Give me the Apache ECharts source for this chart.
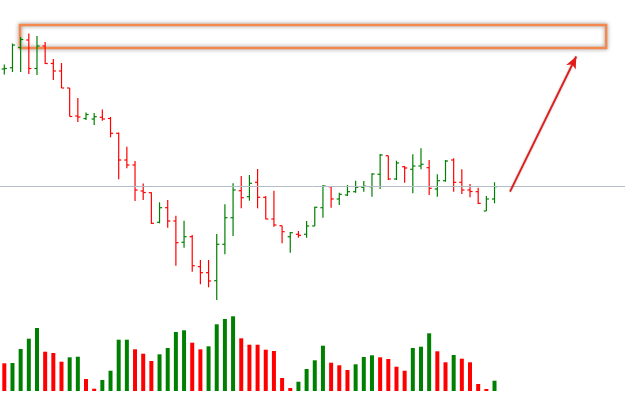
<!DOCTYPE html>
<html>
<head>
<meta charset="utf-8">
<script src="https://cdn.jsdelivr.net/npm/echarts@6/dist/echarts.min.js"></script>
<style>html,body{margin:0;padding:0;background:#fff}#c{width:625px;height:401px}</style>
</head>
<body>
<div id="c"></div>
<script>
// OHLC prices (arbitrary units)
const opens  = [231,232.3,252.5,260,231.5,254,236.5,229,212,184,181.5,181,182.7,181.5,166.7,140,135,109,107.3,77.7,92.3,79,57.7,63.3,33.3,27.3,19.3,55.7,82.3,109.3,103.3,117.7,102.7,81,74.3,63.3,65.7,65.7,74,92.3,113.3,101,105,108.3,112.7,113.3,125.7,144.3,121,133.3,130.7,134,132.3,111,119.3,140,117.7,110,108.3,89,101];
const closes = [231.5,255,260.5,231.5,254,236.5,229,212,183.5,183,185.5,183.3,181,166.7,140,135,110,107.5,76.7,92.3,79,57.3,63.3,34.3,27.3,19,55.7,82.3,110,102.3,116.7,102.7,81,75,68.3,67.3,64.7,74,92.7,114,101,105.7,108.3,112.7,113.7,126,145,121,137,132,134,135.7,111.7,119.3,139,117.7,110,108.5,96.7,101,113.3];
const lows   = [225.5,228,228,226,225,236,220,212,183.5,178,180,175,179.3,162.7,120.7,131.7,99,100,76,76.7,72.3,34.3,52.3,28.3,15.7,12.7,0,45.7,64,91.7,99.3,91.7,80.7,73.3,56.7,47.3,62.3,62.3,74,82.3,92.3,95,104,107.3,108.3,103.3,111,120,120,117.3,106.7,130.7,105,103.3,118.3,108.3,106,102.7,96,89,96.7];
const highs  = [235.5,256.5,263,266.5,264,258,241,237,212,202,187.5,187,190.5,183,167.5,153.3,139,116.5,107.7,97.7,100,84.3,79.3,65,40,40,66,95.7,116.7,124,125,131,104,109.3,74.3,68,69,79,93.3,115,114,107.3,115,119.3,119,126.7,146,144.3,139.3,134,145.7,151.7,140,125.7,140,141.7,130.7,116,112.3,104,117.7];
// Volume and its direction (1 = up, -1 = down)
const volumes = [27.7,28,42,52.3,63,39.3,38,29.3,33.7,34.3,12,2.3,11,20.3,51.3,51.3,41.7,37.3,30,36.7,43,59,60.7,48.3,41.7,44.7,66.7,72,74.7,52.7,46.3,46.3,41.3,40,13,3,9.3,22,30.7,45.3,28.3,25.7,21,26.7,34,35.7,33.7,32,24.3,20.3,43,44.3,57.7,39.7,28.7,36,32.3,28.7,7,2,10.3];
const volDir  = [-1,1,1,1,1,-1,-1,-1,1,1,-1,-1,1,1,1,1,-1,-1,-1,1,1,1,1,-1,-1,1,1,1,1,-1,-1,-1,-1,-1,-1,-1,1,1,1,1,-1,-1,-1,1,1,1,-1,-1,-1,-1,1,1,1,-1,-1,1,-1,-1,-1,-1,1];
// Annotations (in data units)
const refLevel = 114;
const boxArea = [[1.92, 275], [73.66, 252]];
const arrowFrom = [61.9, 108.3];
const arrowTo = [70.0, 243.5];

const UP = '#008000', DOWN = '#ff0000';
const ohlc = opens.map((o, i) => [i, o, closes[i], lows[i], highs[i]]);
const vol = volumes.map((v, i) => ({ value: [i, v], itemStyle: { color: volDir[i] > 0 ? UP : DOWN } }));

const X_MIN = -0.527, X_MAX = 75.97;
const chart = echarts.init(document.getElementById('c'));
chart.setOption({
  animation: false,
  grid: [
    { left: 0, right: 0, top: 0, height: 310 },
    { left: 0, right: 0, top: 311, height: 80 }
  ],
  xAxis: [
    { type: 'value', gridIndex: 0, min: X_MIN, max: X_MAX, show: false },
    { type: 'value', gridIndex: 1, min: X_MIN, max: X_MAX, show: false }
  ],
  yAxis: [
    { type: 'value', gridIndex: 0, min: -10, max: 300, show: false },
    { type: 'value', gridIndex: 1, min: 0, max: 80, show: false }
  ],
  series: [
    {
      type: 'scatter', xAxisIndex: 0, yAxisIndex: 0, data: [], symbolSize: 0, silent: true,
      markLine: {
        silent: true, symbol: ['none', 'none'], label: { show: false },
        lineStyle: { color: '#b4bcc8', width: 1, type: 'solid' },
        data: [{ yAxis: refLevel }]
      }
    },
    {
      type: 'custom', xAxisIndex: 0, yAxisIndex: 0, data: ohlc,
      encode: { x: 0, y: [1, 2, 3, 4] },
      renderItem: function (params, api) {
        const x = api.value(0);
        const o = api.coord([x, api.value(1)]);
        const c = api.coord([x, api.value(2)]);
        const l = api.coord([x, api.value(3)]);
        const h = api.coord([x, api.value(4)]);
        const color = api.value(2) >= api.value(1) ? UP : DOWN;
        const t = 2.6;
        const st = { stroke: color, lineWidth: 1.2 };
        return {
          type: 'group', children: [
            { type: 'line', shape: { x1: h[0], y1: h[1], x2: l[0], y2: l[1] }, style: st },
            { type: 'line', shape: { x1: o[0] - t, y1: o[1], x2: o[0], y2: o[1] }, style: st },
            { type: 'line', shape: { x1: c[0], y1: c[1], x2: c[0] + t, y2: c[1] }, style: st }
          ]
        };
      }
    },
    {
      type: 'scatter', xAxisIndex: 0, yAxisIndex: 0, data: [], symbolSize: 0, silent: true,
      markArea: {
        silent: true,
        itemStyle: { color: 'rgba(255,255,255,0)', borderColor: '#f3874c', borderWidth: 2.5, shadowBlur: 4, shadowColor: 'rgba(0,0,0,0.45)' },
        data: [[{ coord: boxArea[0] }, { coord: boxArea[1] }]]
      }
    },
    {
      type: 'scatter', xAxisIndex: 0, yAxisIndex: 0, data: [], symbolSize: 0, silent: true,
      markLine: {
        silent: true, symbol: ['none', 'arrow'], symbolSize: [8, 12], label: { show: false },
        lineStyle: { color: '#e31b1b', width: 1.8, type: 'solid', shadowBlur: 2, shadowColor: 'rgba(0,0,0,0.35)' },
        data: [[{ coord: arrowFrom }, { coord: arrowTo }]]
      }
    },
    {
      type: 'bar', xAxisIndex: 1, yAxisIndex: 1, data: vol, barWidth: 4,
      itemStyle: { borderWidth: 0 }
    }
  ]
});
</script>
</body>
</html>
